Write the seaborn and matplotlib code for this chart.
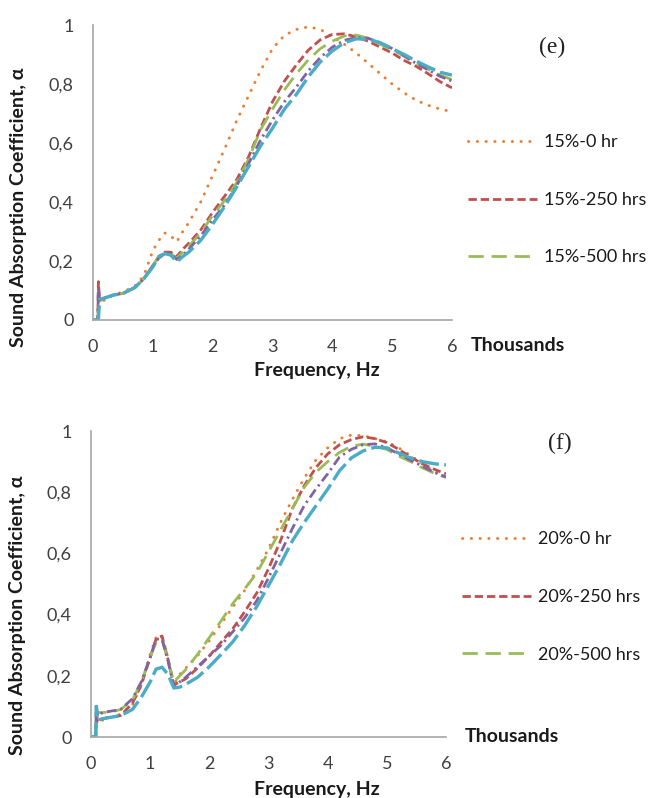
import matplotlib
matplotlib.use("Agg")
import matplotlib.pyplot as plt
import numpy as np
import pandas as pd
import seaborn as sns

# Frequency grid (thousands of Hz), shared by both panels
freq_k = [0, 0.08, 0.09, 0.11, 0.2, 0.35, 0.5, 0.7, 0.85, 1.0, 1.1, 1.2, 1.3, 1.4, 1.5,
          1.6, 1.8, 2.0, 2.2, 2.4, 2.6, 2.8, 3.0, 3.2, 3.4, 3.6, 3.8, 4.0, 4.2, 4.4,
          4.6, 4.8, 5.0, 5.2, 5.4, 5.6, 5.8, 6.0]

# panel (e): 15 %
e_0hr = [0, 0, 0.04, 0.05, 0.07, 0.085, 0.095, 0.115, 0.15, 0.235, 0.27, 0.295, 0.285, 0.265, 0.30,
         0.33, 0.40, 0.49, 0.58, 0.675, 0.76, 0.845, 0.92, 0.965, 0.985, 0.994, 0.985, 0.96, 0.935, 0.905,
         0.87, 0.835, 0.80, 0.77, 0.745, 0.728, 0.715, 0.706]
e_250hr = [0, 0, 0.13, 0.065, 0.075, 0.085, 0.09, 0.11, 0.14, 0.185, 0.215, 0.23, 0.23, 0.215, 0.24,
           0.26, 0.305, 0.365, 0.42, 0.475, 0.553, 0.65, 0.74, 0.81, 0.865, 0.915, 0.95, 0.968, 0.97, 0.96,
           0.945, 0.925, 0.905, 0.88, 0.86, 0.835, 0.808, 0.787]
e_500hr = [0, 0, 0.06, 0.065, 0.075, 0.085, 0.09, 0.11, 0.14, 0.185, 0.215, 0.225, 0.225, 0.21, 0.23,
           0.25, 0.295, 0.355, 0.405, 0.465, 0.545, 0.645, 0.715, 0.78, 0.835, 0.882, 0.92, 0.945, 0.963, 0.966,
           0.955, 0.935, 0.915, 0.895, 0.87, 0.85, 0.83, 0.815]
e_750hr = [0, 0, 0.11, 0.07, 0.075, 0.085, 0.09, 0.11, 0.14, 0.18, 0.21, 0.225, 0.225, 0.205, 0.22,
           0.24, 0.285, 0.34, 0.39, 0.455, 0.53, 0.61, 0.678, 0.74, 0.79, 0.845, 0.89, 0.925, 0.948, 0.958,
           0.955, 0.94, 0.92, 0.895, 0.87, 0.848, 0.826, 0.81]
e_1000hr = [0, 0, 0.0, 0.07, 0.075, 0.085, 0.09, 0.11, 0.14, 0.18, 0.215, 0.225, 0.22, 0.197, 0.215,
            0.23, 0.27, 0.325, 0.385, 0.45, 0.52, 0.59, 0.65, 0.715, 0.765, 0.825, 0.875, 0.912, 0.94, 0.953,
            0.952, 0.94, 0.92, 0.9, 0.878, 0.858, 0.84, 0.83]

# panel (f): 20 %
f_0hr = [0, 0, 0.05, 0.05, 0.055, 0.065, 0.075, 0.105, 0.17, 0.27, 0.325, 0.33, 0.26, 0.17, 0.205,
         0.225, 0.265, 0.315, 0.37, 0.425, 0.48, 0.545, 0.615, 0.70, 0.775, 0.845, 0.905, 0.945, 0.975, 0.987,
         0.985, 0.975, 0.965, 0.945, 0.92, 0.893, 0.868, 0.85]
f_250hr = [0, 0, 0.09, 0.05, 0.06, 0.065, 0.07, 0.11, 0.17, 0.26, 0.32, 0.33, 0.255, 0.17, 0.18,
           0.19, 0.225, 0.265, 0.31, 0.355, 0.41, 0.47, 0.55, 0.64, 0.745, 0.82, 0.88, 0.925, 0.955, 0.972,
           0.981, 0.975, 0.962, 0.94, 0.915, 0.893, 0.875, 0.86]
f_500hr = [0, 0, 0.06, 0.08, 0.08, 0.082, 0.09, 0.12, 0.18, 0.26, 0.31, 0.32, 0.25, 0.18, 0.2,
           0.22, 0.27, 0.325, 0.38, 0.437, 0.485, 0.535, 0.605, 0.675, 0.745, 0.815, 0.865, 0.9, 0.93, 0.95,
           0.957, 0.95, 0.94, 0.918, 0.9, 0.88, 0.862, 0.848]
f_750hr = [0, 0, 0.11, 0.07, 0.08, 0.085, 0.09, 0.125, 0.18, 0.26, 0.32, 0.32, 0.25, 0.165, 0.18,
           0.195, 0.23, 0.265, 0.3, 0.345, 0.39, 0.445, 0.52, 0.60, 0.68, 0.755, 0.81, 0.86, 0.915, 0.94,
           0.955, 0.958, 0.945, 0.925, 0.905, 0.885, 0.865, 0.85]
f_1000hr = [0, 0, 0.10, 0.055, 0.06, 0.065, 0.07, 0.09, 0.13, 0.18, 0.222, 0.228, 0.205, 0.16, 0.163,
            0.172, 0.195, 0.23, 0.27, 0.312, 0.365, 0.426, 0.495, 0.565, 0.64, 0.70, 0.755, 0.81, 0.87, 0.912,
            0.935, 0.947, 0.945, 0.928, 0.912, 0.9, 0.893, 0.889]

e_labels = ["15%-0 hr", "15%-250 hrs", "15%-500 hrs", "15%-750 hrs", "15%-1000 hrs"]
f_labels = ["20%-0 hr", "20%-250 hrs", "20%-500 hrs", "20%-750 hrs", "20%-1000 hrs"]

y_ticks = [0, 0.2, 0.4, 0.6, 0.8, 1.0]
y_ticklabels = ["0", "0,2", "0,4", "0,6", "0,8", "1"]
x_ticks = [0, 1, 2, 3, 4, 5, 6]

# Excel-like series styles
colors = ["#ED7D31", "#C0504D", "#9BBB59", "#8064A2", "#4BACC6"]
styles = [(0, (0.1, 2.9)), (0, (3, 1.4)), (0, (5.5, 2.8)), (0, (3.5, 1.5, 0.8, 1.5)), (0, (6, 1.6))]
caps = ["round", "butt", "butt", "butt", "butt"]
widths = [2.1, 2.0, 2.0, 2.0, 2.4]

sns.set_theme(style="white")
plt.rcParams["font.family"] = ["Lato", "DejaVu Sans"]

fig = plt.figure(figsize=(6.51, 7.98), dpi=100)


def draw_panel(ax, series, labels, tag, tag_pos, leg_y, thous_y, ylab_x, ylab_y):
    for vals, lab, c, ls, cap, lw in zip(series, labels, colors, styles, caps, widths):
        df = pd.DataFrame({"freq": freq_k, "alpha": vals})
        sns.lineplot(data=df, x="freq", y="alpha", ax=ax, color=c, linestyle=ls,
                     dash_capstyle=cap, linewidth=lw, label=lab, errorbar=None, legend=False)
    ax.set_xlim(0, 6)
    ax.set_ylim(0, 1)
    ax.set_xticks(x_ticks)
    ax.set_xticklabels([str(t) for t in x_ticks])
    ax.set_yticks(y_ticks)
    ax.set_yticklabels(y_ticklabels)
    ax.tick_params(axis="both", length=0, pad=14, labelsize=13, colors="#404040")
    for side in ["top", "right"]:
        ax.spines[side].set_visible(False)
    for side in ["left", "bottom"]:
        ax.spines[side].set_color("#A6A6A6")
        ax.spines[side].set_linewidth(1.2)
    ax.grid(False)

    ax.set_xlabel("Frequency, Hz", fontsize=14, fontweight="bold", color="#1a1a1a")
    ax.set_ylabel("Sound Absorption Coefficient, α", fontsize=14, fontweight="bold", color="#1a1a1a")
    ax.yaxis.set_label_coords(ylab_x, ylab_y)

    ax.text(1.053, thous_y, "Thousands", transform=ax.transAxes, fontsize=14,
            fontweight="bold", color="#1a1a1a", ha="left", va="center")
    ax.text(tag_pos[0], tag_pos[1], tag, transform=ax.transAxes, fontsize=17,
            family="Liberation Serif", ha="center", va="center", color="#222222")

    # Only the first three entries are visible in the original (legend is clipped)
    handles = ax.get_lines()[:3]
    ax.legend(handles, labels[:3], loc="center left", bbox_to_anchor=(1.045, leg_y),
              frameon=False, fontsize=13, handlelength=3.8, handletextpad=0.4,
              labelspacing=2.3, borderpad=0, borderaxespad=0, labelcolor="#1a1a1a")


ax_e = fig.add_axes([93 / 651, 1 - 320 / 798, 359 / 651, 295 / 798])
draw_panel(ax_e, [e_0hr, e_250hr, e_500hr, e_750hr, e_1000hr], e_labels, "(e)",
           (1.28, 0.925), 0.407, -0.085, -0.185, 0.383)
ax_e.xaxis.set_label_coords(0.624, -0.142)

ax_f = fig.add_axes([91 / 651, 1 - 737 / 798, 355 / 651, 306 / 798])
draw_panel(ax_f, [f_0hr, f_250hr, f_500hr, f_750hr, f_1000hr], f_labels, "(f)",
           (1.32, 0.96), 0.4575, 0.0, -0.182, 0.399)
ax_f.xaxis.set_label_coords(0.637, -0.144)

fig.savefig("out.png", dpi=100)
